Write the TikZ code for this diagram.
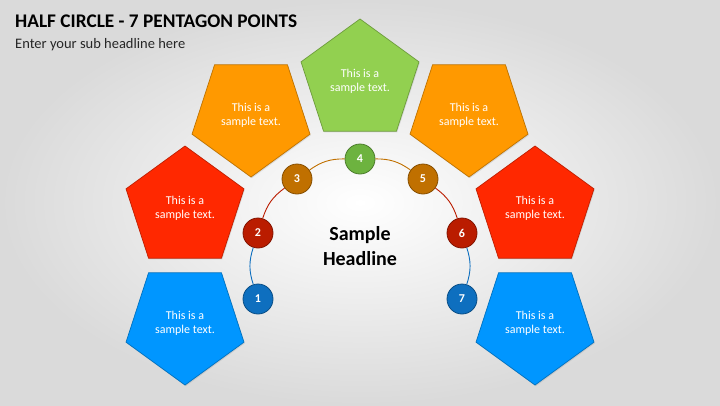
\documentclass[tikz,border=0pt]{standalone}
\usepackage{fontspec}
\setmainfont{Carlito}
\usetikzlibrary{shapes.geometric,shadows}

\definecolor{bgGray}{HTML}{DADADA}
\definecolor{pentBlue}{HTML}{0096FF}
\definecolor{pentRed}{HTML}{FF2800}
\definecolor{pentOrange}{HTML}{FF9900}
\definecolor{pentGreen}{HTML}{92D050}
\definecolor{numBlue}{HTML}{0E6FBF}
\definecolor{numRed}{HTML}{BA1C00}
\definecolor{numBrown}{HTML}{C07000}
\definecolor{numGreen}{HTML}{6DB33F}

\tikzset{
  penta/.style={regular polygon, regular polygon sides=5, minimum size=124pt,
    inner sep=0pt, fill=#1, draw=#1!75!black, line width=0.7pt,
    text=white, align=center, font=\fontsize{12}{14}\selectfont,
    drop shadow={opacity=0.22, shadow xshift=0.8pt, shadow yshift=-1.2pt}},
  pentadown/.style={penta=#1, shape border rotate=180},
  numdot/.style={circle, minimum size=30pt, inner sep=0pt, fill=#1,
    draw=#1!70!black, line width=0.8pt, text=white,
    font=\bfseries\fontsize{12}{12}\selectfont},
  arcline/.style={draw=#1, line width=0.9pt},
}

\begin{document}
\begin{tikzpicture}[x=1pt, y=-1pt]

% BACKGROUND
\useasboundingbox (0,0) rectangle (720,405);
\shade[inner color=white, outer color=bgGray] (0,0) rectangle (720,405);

% TITLE
\node[anchor=base west, inner sep=0pt, font=\bfseries\fontsize{19.3}{21}\selectfont] (title) at (15,27) {HALF CIRCLE - 7 PENTAGON POINTS};
\node[anchor=base west, inner sep=0pt, font=\fontsize{14.5}{16}\selectfont, text=black!85] (subtitle) at (15,48) {Enter your sub headline here};

% PENTAGONS
\node[pentadown=pentBlue]   (p1) at (185,323) {This is a\\sample text.};
\node[penta=pentRed]        (p2) at (185,208) {This is a\\sample text.};
\node[pentadown=pentOrange] (p3) at (251,115) {This is a\\sample text.};
\node[penta=pentGreen]      (p4) at (360, 81) {This is a\\sample text.};
\node[pentadown=pentOrange] (p5) at (469,115) {This is a\\sample text.};
\node[penta=pentRed]        (p6) at (535,208) {This is a\\sample text.};
\node[pentadown=pentBlue]   (p7) at (535,323) {This is a\\sample text.};

% NUMBERED POINTS
\node[numdot=numBlue]  (n1) at (258,299) {1};
\node[numdot=numRed]   (n2) at (258,233) {2};
\node[numdot=numBrown] (n3) at (297,179) {3};
\node[numdot=numGreen] (n4) at (360,159) {4};
\node[numdot=numBrown] (n5) at (423,179) {5};
\node[numdot=numRed]   (n6) at (462,233) {6};
\node[numdot=numBlue]  (n7) at (462,299) {7};

% HALF CIRCLE
\draw[arcline=numBlue]  (n1) to[bend left=18] (n2);
\draw[arcline=numRed]   (n2) to[bend left=18] (n3);
\draw[arcline=numBrown] (n3) to[bend left=18] (n4);
\draw[arcline=numBrown] (n4) to[bend left=18] (n5);
\draw[arcline=numRed]   (n5) to[bend left=18] (n6);
\draw[arcline=numBlue]  (n6) to[bend left=18] (n7);

% CENTER TEXT
\node[align=center, font=\bfseries\fontsize{20}{25}\selectfont] (head) at (360,246) {Sample\\Headline};

\end{tikzpicture}
\end{document}
